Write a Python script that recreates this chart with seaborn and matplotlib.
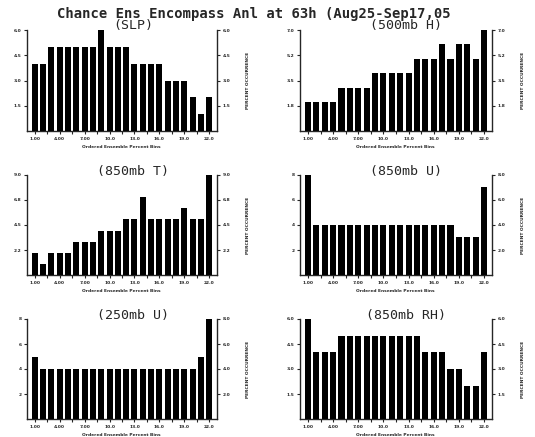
import numpy as np
import pandas as pd
import matplotlib
matplotlib.use("Agg")
import matplotlib.pyplot as plt
import seaborn as sns

sns.set_style("white")
plt.rcParams["font.family"] = ["DejaVu Sans", "DejaVu Sans Mono"]

# ordered ensemble percent bins (21 members -> 22 bins)
bins = list(range(1, 23))

slp = [4, 4, 5, 5, 5, 5, 5, 5, 6, 5, 5, 5, 4, 4, 4, 4, 3, 3, 3, 2, 1, 2]
h500 = [2, 2, 2, 2, 3, 3, 3, 3, 4, 4, 4, 4, 4, 5, 5, 5, 6, 5, 6, 6, 5, 7]
t850 = [2, 1, 2, 2, 2, 3, 3, 3, 4, 4, 4, 5, 5, 7, 5, 5, 5, 5, 6, 5, 5, 9]
u850 = [8, 4, 4, 4, 4, 4, 4, 4, 4, 4, 4, 4, 4, 4, 4, 4, 4, 4, 3, 3, 3, 7]
u250 = [5, 4, 4, 4, 4, 4, 4, 4, 4, 4, 4, 4, 4, 4, 4, 4, 4, 4, 4, 4, 5, 8]
rh850 = [6, 4, 4, 4, 5, 5, 5, 5, 5, 5, 5, 5, 5, 5, 4, 4, 4, 3, 3, 2, 2, 4]

titles = ["(SLP)", "(500mb H)", "(850mb T)", "(850mb U)", "(250mb U)", "(850mb RH)"]
series = [slp, h500, t850, u850, u250, rh850]
ytops = [6.0, 7.0, 9.0, 8.0, 8.0, 6.0]
left_fmt = ["%.1f", "%.1f", "%.1f", "%d", "%d", "%.1f"]
xtick_vals = [1, 4, 7, 10, 13, 16, 19, 22]
xtick_labels = ["1.00", "4.00", "7.00", "10.0", "13.0", "16.0", "19.0", "22.0"]

W, H = 535, 437
fig = plt.figure(figsize=(W / 100, H / 100), dpi=100)

# pixel boxes of each panel: (left, right, top, bottom)
cols = [(27, 217), (300, 492)]
rows = [(30, 131), (175, 275), (319, 419)]

fig.text(254 / W, 1 - 14 / H, "Chance Ens Encompass Anl at 63h (Aug25-Sep17,05",
         ha="center", va="center", fontsize=10, fontweight="bold",
         family="DejaVu Sans Mono")

small = dict(fontsize=3.2, fontweight="bold")

for i, (vals, title, top, fmt) in enumerate(zip(series, titles, ytops, left_fmt)):
    r, c = divmod(i, 2)
    x0, x1 = cols[c]
    y0, y1 = rows[r]
    ax = fig.add_axes([x0 / W, 1 - y1 / H, (x1 - x0) / W, (y1 - y0) / H])
    df = pd.DataFrame({"bin": bins, "pct": vals})
    sns.barplot(data=df, x="bin", y="pct", native_scale=True, color="black",
                saturation=1, width=0.72, edgecolor="none", ax=ax)
    ax.set_xlim(0.05, 22.95)
    ax.set_ylim(0, top)
    yt = [top / 4 * k for k in range(1, 5)]
    ax.set_yticks(yt)
    ax.set_yticklabels([fmt % v for v in yt], **small)
    ax.set_xticks(xtick_vals)
    ax.set_xticklabels(xtick_labels, **small)
    ax.set_xticks([2.5, 5.5, 8.5, 11.5, 14.5, 17.5, 20.5], minor=True)
    ax.tick_params(axis="both", which="both", direction="out", length=2.5,
                   width=0.8, pad=1.5, left=True, bottom=True)
    ax.set_xlabel("")
    ax.set_ylabel("")
    for s in ["left", "right", "bottom"]:
        ax.spines[s].set_visible(True)
        ax.spines[s].set_color("black")
        ax.spines[s].set_linewidth(0.9)
    ax.spines["top"].set_visible(False)

    ax2 = ax.twinx()
    ax2.set_ylim(0, top)
    ax2.set_yticks(yt)
    ax2.set_yticklabels(["%.1f" % v for v in yt], **small)
    ax2.tick_params(axis="y", direction="out", length=2.5, width=0.8, pad=1.5, right=True)
    ax2.spines["top"].set_visible(False)
    ax2.grid(False)

    fig.text((x0 + 106) / W, 1 - (y0 - 4) / H, title, ha="center", va="center",
             fontsize=9.5, family="DejaVu Sans Mono")
    fig.text((x0 + (x1 - x0) / 2 - 1) / W, 1 - (y1 + 16) / H,
             "Ordered Ensemble Percent Bins", ha="center", va="center", **small)
    fig.text((x1 + 31) / W, 1 - (y0 + y1) / 2 / H, "PERCENT OCCURRENCE",
             ha="center", va="center", rotation=90, **small)

fig.savefig("out.png", dpi=100)
